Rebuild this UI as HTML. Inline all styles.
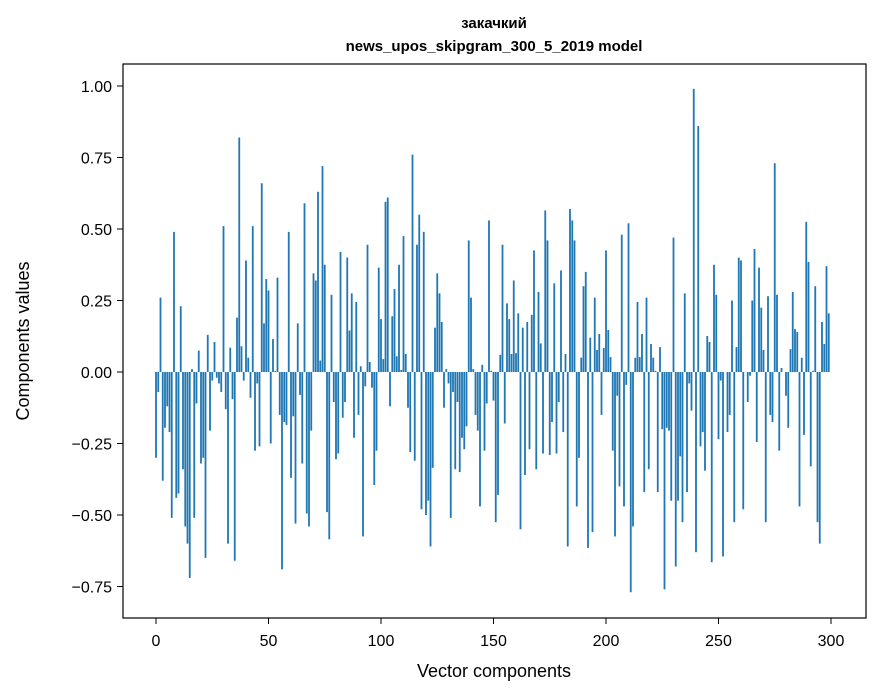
<!DOCTYPE html>
<html><head><meta charset="utf-8"><style>
body{margin:0;background:#fff;}
svg{display:block;font-family:"Liberation Sans","DejaVu Sans",sans-serif;}
</style></head><body>
<svg id="chart" width="880" height="696" viewBox="0 0 880 696" xmlns="http://www.w3.org/2000/svg">
<rect x="0" y="0" width="880" height="696" fill="#fff"/>
<text x="494" y="28" text-anchor="middle" font-size="15" font-weight="bold">закачкий</text>
<text x="494" y="51" text-anchor="middle" font-size="15" font-weight="bold">news_upos_skipgram_300_5_2019 model</text>
<g id="bars"></g>
<g id="axes"></g>
<rect x="123" y="64" width="743" height="554" fill="none" stroke="#000" stroke-width="1.2"/>
<text x="494" y="677" text-anchor="middle" font-size="18">Vector components</text>
<text transform="translate(29,341) rotate(-90)" text-anchor="middle" font-size="18">Components values</text>
</svg>
<script>
const values = [
-0.30,-0.07,0.26,-0.38,-0.195,-0.12,-0.21,-0.51,0.49,-0.44,
-0.425,0.23,-0.34,-0.54,-0.60,-0.72,0.01,-0.51,-0.11,0.075,
-0.32,-0.30,-0.65,0.13,-0.205,-0.03,0.105,-0.02,-0.04,-0.07,
0.51,-0.13,-0.60,0.085,-0.095,-0.66,0.19,0.82,0.09,-0.03,
0.39,0.05,-0.09,0.51,-0.275,-0.04,-0.26,0.66,0.17,0.325,
0.285,-0.25,0.115,0.003,0.33,-0.15,-0.69,-0.175,-0.185,0.49,
-0.37,-0.155,-0.53,0.17,-0.08,-0.32,0.59,-0.495,-0.54,-0.205,
0.345,0.32,0.63,0.04,0.72,0.375,-0.49,-0.585,0.27,-0.105,
-0.305,-0.285,0.42,-0.16,-0.105,0.40,0.145,0.275,-0.23,0.245,
-0.15,0.02,-0.575,-0.05,0.445,0.035,-0.055,-0.395,-0.275,0.365,
0.185,0.045,0.595,0.61,-0.12,0.195,0.29,0.055,0.375,0.007,
0.475,0.063,-0.125,-0.28,0.76,-0.31,0.445,0.55,-0.48,0.49,
-0.50,-0.45,-0.61,-0.335,0.155,0.345,0.275,0.175,-0.125,0.01,
-0.04,-0.51,-0.07,-0.34,-0.105,-0.35,-0.23,-0.27,-0.19,0.46,
0.26,0.01,-0.15,-0.205,-0.47,0.025,-0.275,-0.11,0.53,0.004,
-0.10,-0.525,-0.43,0.06,0.445,-0.18,0.24,0.185,0.063,0.32,
0.066,0.205,-0.55,0.155,-0.36,0.175,-0.27,0.20,0.425,-0.34,
0.28,0.10,-0.285,0.565,0.46,-0.29,-0.175,0.31,-0.285,-0.105,
0.355,-0.21,0.063,-0.61,0.57,0.53,0.46,-0.47,-0.30,0.05,
0.30,0.35,-0.615,0.12,-0.56,0.26,0.077,0.133,-0.15,0.084,
0.425,0.147,0.052,-0.275,-0.575,-0.083,-0.40,0.48,-0.47,-0.045,
0.52,-0.77,-0.54,0.05,0.245,0.052,0.133,-0.42,0.26,-0.34,
0.098,0.05,0.004,-0.42,0.087,-0.20,-0.76,-0.195,-0.205,-0.45,
0.47,-0.68,-0.45,-0.295,-0.525,0.275,-0.42,-0.04,-0.135,0.99,
-0.63,0.86,-0.26,-0.21,-0.345,0.126,0.105,-0.665,0.375,0.27,
-0.235,-0.03,-0.645,0.0,-0.21,-0.15,0.25,-0.525,0.087,0.40,
0.39,-0.48,0.0,-0.105,-0.013,0.25,0.43,-0.245,0.365,0.225,
0.077,-0.525,0.265,-0.15,-0.175,0.73,0.27,-0.275,0.014,0.0,
-0.083,-0.195,0.08,0.28,0.15,0.14,-0.47,0.05,-0.22,0.525,
0.385,-0.33,0.004,0.30,-0.525,-0.60,0.175,0.098,0.37,0.205
];
const xTicks = [0,50,100,150,200,250,300];
const yTicks = [-0.75,-0.50,-0.25,0.00,0.25,0.50,0.75,1.00];
const yTickLabels = ["\u22120.75","\u22120.50","\u22120.25","0.00","0.25","0.50","0.75","1.00"];

const NS = "http://www.w3.org/2000/svg";
const xScale = v => 156 + v * 2.25;
const yScale = v => 372 - v * 286;
const barsG = document.getElementById('bars');
values.forEach((v, i) => {
  const r = document.createElementNS(NS, 'rect');
  const y0 = yScale(0), y1 = yScale(v);
  r.setAttribute('x', xScale(i) - 0.9);
  r.setAttribute('width', 1.8);
  r.setAttribute('y', Math.min(y0, y1));
  r.setAttribute('height', Math.max(Math.abs(y1 - y0), 0.01));
  r.setAttribute('fill', '#1f77b4');
  
  
  barsG.appendChild(r);
});
const axes = document.getElementById('axes');
xTicks.forEach(t => {
  const x = xScale(t);
  const l = document.createElementNS(NS, 'line');
  l.setAttribute('x1', x); l.setAttribute('x2', x);
  l.setAttribute('y1', 618); l.setAttribute('y2', 624);
  l.setAttribute('stroke', '#000');
  
  
  axes.appendChild(l);
  const tx = document.createElementNS(NS, 'text');
  tx.setAttribute('x', x); tx.setAttribute('y', 646);
  tx.setAttribute('text-anchor', 'middle'); tx.setAttribute('font-size', '16');
  tx.textContent = t;
  
  
  axes.appendChild(tx);
});
yTicks.forEach((t, i) => {
  const y = yScale(t);
  const l = document.createElementNS(NS, 'line');
  l.setAttribute('x1', 117); l.setAttribute('x2', 123);
  l.setAttribute('y1', y); l.setAttribute('y2', y);
  l.setAttribute('stroke', '#000');
  
  
  axes.appendChild(l);
  const tx = document.createElementNS(NS, 'text');
  tx.setAttribute('x', 112); tx.setAttribute('y', y + 6);
  tx.setAttribute('text-anchor', 'end'); tx.setAttribute('font-size', '16');
  tx.textContent = yTickLabels[i];
  
  
  axes.appendChild(tx);
});
</script>
</body></html>
